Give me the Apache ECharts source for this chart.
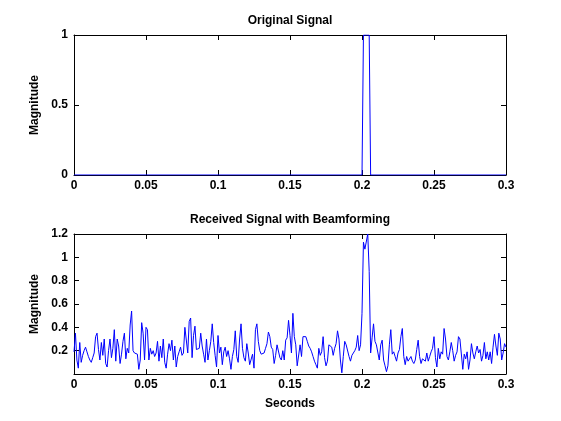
<!DOCTYPE html>
<html>
<head>
<meta charset="utf-8">
<title>Beamforming</title>
<script src="https://cdn.jsdelivr.net/npm/echarts@6/dist/echarts.min.js"></script>
<style>
  html, body { margin: 0; padding: 0; background: #fff; }
  #chart { width: 561px; height: 421px; }
</style>
</head>
<body>
<div id="chart"></div>
<script>
// original pulse (time in seconds, magnitude)
const pulseTimes = [0, 0.2, 0.201, 0.205, 0.206, 0.3]
const pulseValues = [0, 0, 1, 1, 0, 0]

// received signal, one sample per millisecond in 50 ms pieces
const rx000 = [0.19, 0.35, 0.12, 0.05, 0.27, 0.10, 0.16, 0.20, 0.23, 0.19,
  0.15, 0.12, 0.10, 0.14, 0.18, 0.32, 0.35, 0.21, 0.12, 0.27,
  0.16, 0.30, 0.09, 0.06, 0.20, 0.30, 0.14, 0.22, 0.38, 0.11,
  0.30, 0.24, 0.09, 0.17, 0.28, 0.35, 0.13, 0.22, 0.18, 0.42,
  0.54, 0.20, 0.18, 0.18, 0.17, 0.04, 0.12, 0.44, 0.35, 0.12]
const rx050 = [0.40, 0.38, 0.12, 0.22, 0.17, 0.20, 0.15, 0.18, 0.28, 0.11,
  0.24, 0.14, 0.30, 0.10, 0.05, 0.17, 0.26, 0.20, 0.29, 0.12,
  0.24, 0.06, 0.15, 0.19, 0.23, 0.16, 0.18, 0.40, 0.39, 0.18,
  0.45, 0.48, 0.14, 0.33, 0.41, 0.21, 0.20, 0.22, 0.35, 0.24,
  0.17, 0.10, 0.30, 0.12, 0.20, 0.28, 0.43, 0.27, 0.16, 0.06]
const rx100 = [0.33, 0.18, 0.23, 0.08, 0.19, 0.23, 0.15, 0.20, 0.13, 0.04,
  0.15, 0.21, 0.37, 0.15, 0.10, 0.30, 0.43, 0.22, 0.14, 0.11,
  0.26, 0.18, 0.08, 0.07, 0.17, 0.05, 0.38, 0.43, 0.28, 0.20,
  0.17, 0.16, 0.18, 0.22, 0.26, 0.36, 0.32, 0.23, 0.21, 0.09,
  0.16, 0.25, 0.26, 0.14, 0.12, 0.20, 0.12, 0.29, 0.31, 0.46]
const rx150 = [0.33, 0.18, 0.52, 0.32, 0.25, 0.07, 0.07, 0.25, 0.15, 0.32,
  0.33, 0.32, 0.28, 0.24, 0.22, 0.19, 0.15, 0.11, 0.08, 0.05,
  0.22, 0.16, 0.19, 0.32, 0.14, 0.07, 0.11, 0.25, 0.24, 0.23,
  0.16, 0.22, 0.26, 0.37, 0.30, 0.12, 0.01, 0.15, 0.28, 0.25,
  0.26, 0.15, 0.11, 0.16, 0.17, 0.20, 0.23, 0.33, 0.20, 0.25]
const rx200 = [0.52, 1.13, 1.07, 1.06, 1.20, 0.88, 0.18, 0.31, 0.43, 0.28,
  0.25, 0.25, 0.12, 0.25, 0.29, 0.12, 0.07, 0.02, 0.07, 0.25,
  0.38, 0.17, 0.19, 0.15, 0.11, 0.18, 0.21, 0.32, 0.39, 0.15,
  0.08, 0.15, 0.11, 0.12, 0.15, 0.11, 0.09, 0.12, 0.21, 0.29,
  0.15, 0.09, 0.13, 0.14, 0.11, 0.18, 0.11, 0.15, 0.19, 0.22]
const rx250 = [0.32, 0.14, 0.06, 0.22, 0.13, 0.19, 0.17, 0.39, 0.30, 0.15,
  0.12, 0.19, 0.27, 0.20, 0.11, 0.16, 0.19, 0.32, 0.30, 0.29,
  0.04, 0.17, 0.13, 0.19, 0.04, 0.12, 0.26, 0.18, 0.13, 0.19,
  0.24, 0.18, 0.21, 0.11, 0.16, 0.27, 0.13, 0.19, 0.12, 0.19,
  0.09, 0.23, 0.34, 0.24, 0.16, 0.35, 0.30, 0.12, 0.18, 0.26,
  0.23]

const received = [].concat(rx000, rx050, rx100, rx150, rx200, rx250)
const sampleStep = 0.001

const xTicks = { min: 0, max: 0.3, interval: 0.05 }
const topYTicks = { min: 0, max: 1, interval: 0.5 }
const bottomYTicks = { min: 0, max: 1.2, interval: 0.2 }

const font = { color: '#000', fontSize: 12, fontWeight: 'bold', fontFamily: 'Liberation Sans, Arial, sans-serif' }

const chart = echarts.init(document.getElementById('chart'))

const boxLine = { show: true, onZero: false, lineStyle: { color: '#000', width: 1 } }
const boxTick = { show: true, inside: true, length: 5, lineStyle: { color: '#000', width: 1 } }

const xAxisFor = (gridIndex, position, extra) => Object.assign({
  type: 'value',
  gridIndex: gridIndex,
  position: position,
  min: xTicks.min,
  max: xTicks.max,
  interval: xTicks.interval,
  axisLine: boxLine,
  axisTick: boxTick,
  splitLine: { show: false },
  axisLabel: position === 'bottom'
    ? Object.assign({ margin: 5 }, font)
    : { show: false }
}, extra || {})

const yAxisFor = (gridIndex, position, ticks, extra) => Object.assign({
  type: 'value',
  gridIndex: gridIndex,
  position: position,
  min: ticks.min,
  max: ticks.max,
  interval: ticks.interval,
  axisLine: boxLine,
  axisTick: boxTick,
  splitLine: { show: false },
  axisLabel: position === 'left'
    ? Object.assign({ margin: 6 }, font)
    : { show: false }
}, extra || {})

const option = {
  animation: false,
  backgroundColor: '#fff',
  grid: [
    { left: 74, top: 35, width: 432, height: 140 },
    { left: 74, top: 234, width: 432, height: 140 }
  ],
  xAxis: [
    xAxisFor(0, 'bottom'),
    xAxisFor(0, 'top', {
      z: 3,
      name: 'Original Signal',
      nameLocation: 'middle',
      nameGap: 8,
      nameTextStyle: font
    }),
    xAxisFor(1, 'bottom', {
      name: 'Seconds',
      nameLocation: 'middle',
      nameGap: 24,
      nameTextStyle: font
    }),
    xAxisFor(1, 'top', {
      name: 'Received Signal with Beamforming',
      nameLocation: 'middle',
      nameGap: 8,
      nameTextStyle: font
    })
  ],
  yAxis: [
    yAxisFor(0, 'left', topYTicks, {
      name: 'Magnitude',
      nameLocation: 'middle',
      nameGap: 30,
      nameTextStyle: font
    }),
    yAxisFor(0, 'right', topYTicks),
    yAxisFor(1, 'left', bottomYTicks, {
      name: 'Magnitude',
      nameLocation: 'middle',
      nameGap: 30,
      nameTextStyle: font,
      axisLabel: Object.assign({
        margin: 6,
        formatter: v => (v === 0 ? '' : String(+v.toFixed(2)))
      }, font)
    }),
    yAxisFor(1, 'right', bottomYTicks)
  ],
  series: [
    {
      type: 'line',
      xAxisIndex: 0,
      yAxisIndex: 0,
      data: pulseTimes.map((t, i) => [t, pulseValues[i]]),
      showSymbol: false,
      lineStyle: { color: '#0000ff', width: 1 }
    },
    {
      type: 'line',
      xAxisIndex: 2,
      yAxisIndex: 2,
      data: received.map((v, i) => [+(i * sampleStep).toFixed(3), v]),
      showSymbol: false,
      lineStyle: { color: '#0000ff', width: 1 }
    }
  ]
}

chart.setOption(option)
</script>
</body>
</html>
